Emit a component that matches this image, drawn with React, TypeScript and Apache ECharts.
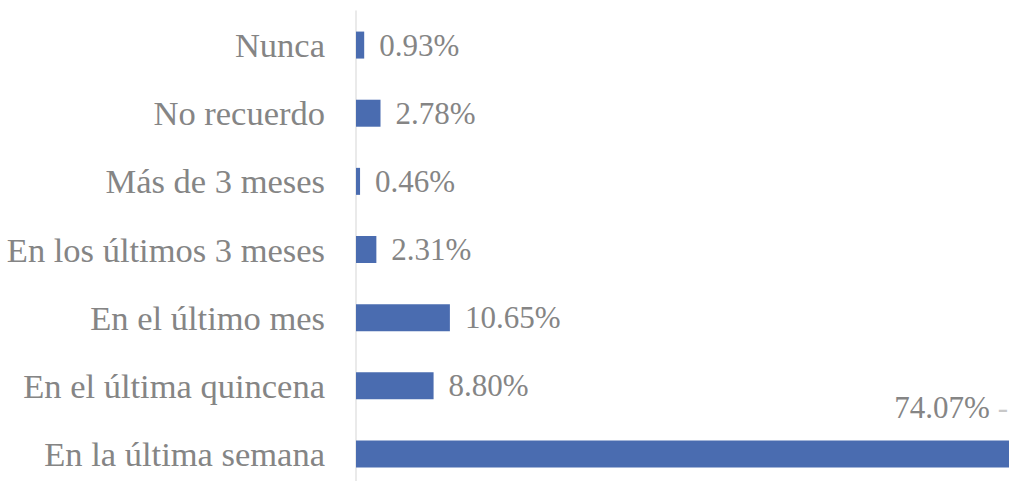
import React, { useEffect, useRef } from "react";
import * as echarts from "echarts";

const categories = [
  "Nunca",
  "No recuerdo",
  "Más de 3 meses",
  "En los últimos 3 meses",
  "En el último mes",
  "En el última quincena",
  "En la última semana",
];
const values = [0.93, 2.78, 0.46, 2.31, 10.65, 8.8, 74.07];
const valueLabels = ["0.93%", "2.78%", "0.46%", "2.31%", "10.65%", "8.80%", "74.07%"];

export default function App() {
  const ref = useRef<HTMLDivElement>(null);
  useEffect(() => {
    if (!ref.current) return;
    document.body.style.overflow = "hidden";
    const chart = echarts.init(ref.current, null, { renderer: "svg" });
    const last = values.length - 1;
    chart.setOption({
      animation: false,
      backgroundColor: "#ffffff",
      grid: { left: 356, right: 0, top: 11, bottom: 2, containLabel: false },
      xAxis: {
        type: "value",
        min: 0,
        max: 74.07,
        show: false,
      },
      yAxis: {
        type: "category",
        data: categories,
        inverse: true,
        offset: 3,
        axisLine: { show: true, lineStyle: { color: "#e3e3e3", width: 1.5 } },
        axisTick: { show: false },
        axisLabel: {
          margin: 28,
          fontFamily: "Liberation Serif",
          fontSize: 34.5,
          color: "#858585",
        },
        splitLine: { show: false },
      },
      series: [
        {
          type: "bar",
          barWidth: 27,
          itemStyle: { color: "#4a6cb0" },
          data: values.map((v, i) =>
            i === last
              ? {
                  value: v,
                  label: {
                    position: "insideRight",
                    offset: [14, -46],
                    formatter: "{a|" + valueLabels[i] + "}{b| -}",
                    rich: {
                      a: { fontFamily: "Liberation Serif", fontSize: 31, color: "#858585" },
                      b: { fontFamily: "Liberation Serif", fontSize: 31, color: "#c8c8c8" },
                    },
                  },
                }
              : v
          ),
          label: {
            show: true,
            position: "right",
            distance: 15,
            formatter: (p: any) => valueLabels[p.dataIndex],
            fontFamily: "Liberation Serif",
            fontSize: 31,
            color: "#858585",
          },
        },
      ],
    });
    return () => chart.dispose();
  }, []);
  return (
    <div
      ref={ref}
      style={{ position: "absolute", left: 0, top: 0, width: 1009, height: 490 }}
    />
  );
}
